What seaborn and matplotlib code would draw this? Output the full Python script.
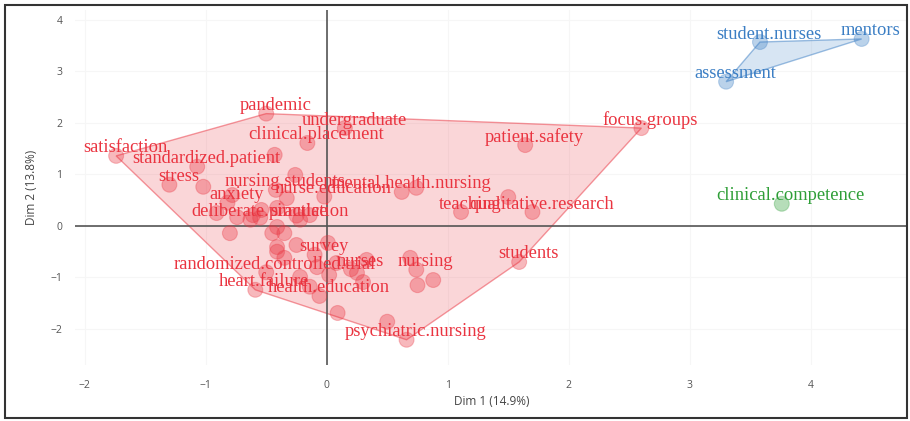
import numpy as np
import pandas as pd
import matplotlib
matplotlib.use('Agg')
import matplotlib.pyplot as plt
import seaborn as sns
from matplotlib.patches import Rectangle

# Koordinaten der Keywords (Dim 1 / Dim 2), beschriftete Punkte
red_labels = [
    'satisfaction', 'standardized.patient', 'stress', 'pandemic', 'undergraduate',
    'clinical.placement', 'patient.safety', 'focus.groups', 'nursing.students',
    'nurse.education', 'mental.health.nursing', 'teaching', 'qualitative.research',
    'anxiety', 'deliberate.practice', 'simulation', 'survey',
    'randomized.controlled.trial', 'nurses', 'nursing', 'heart.failure',
    'health.education', 'psychiatric.nursing', 'students',
]
red_x = [-1.74, -1.07, -1.30, -0.50, 0.15, -0.16, 1.64, 2.60, -0.42, -0.02, 0.62, 1.11,
         1.70, -0.82, -0.63, -0.22, -0.10, -0.50, 0.20, 0.74, -0.59, -0.06, 0.66, 1.59]
red_y = [1.36, 1.15, 0.80, 2.18, 1.90, 1.61, 1.57, 1.90, 0.70, 0.57, 0.66, 0.27,
         0.27, 0.45, 0.12, 0.12, -0.56, -0.90, -0.84, -0.85, -1.24, -1.36, -2.21, -0.70]

# unbeschriftete Punkte im roten Cluster
red_extra_x = [-0.43, -1.02, -0.26, -0.33, -0.80, -0.91, -0.74, -0.61, -0.55, -0.25,
               -0.41, -0.45, -0.35, -0.78, -0.54, -0.41, -0.14, -0.41, -0.25, -0.41,
               -0.35, 0.01, -0.08, -0.22, 0.02, 0.08, 0.33, 0.25, 0.30, -0.14,
               0.09, 0.50, 0.69, 0.75, 0.88, 0.74, 1.50]
red_extra_y = [1.38, 0.76, 0.99, 0.54, -0.14, 0.25, 0.17, 0.21, 0.16, 0.20,
               -0.02, -0.14, -0.14, 0.60, 0.31, 0.35, 0.21, -0.41, -0.37, -0.50,
               -0.62, -0.33, -0.80, -0.99, -0.95, -0.72, -0.66, -0.91, -1.09, -1.18,
               -1.69, -1.86, -0.62, -1.15, -1.05, 0.74, 0.56]

blue_labels = ['student.nurses', 'mentors', 'assessment']
blue_x = [3.58, 4.42, 3.30]
blue_y = [3.57, 3.63, 2.80]

green_labels = ['clinical.competence']
green_x = [3.76]
green_y = [0.43]

colors = {'1': '#EA3440', '2': '#3B7EC4', '3': '#2E9E37'}

df = pd.concat([
    pd.DataFrame({'x': red_x, 'y': red_y, 'label': red_labels, 'cluster': '1'}),
    pd.DataFrame({'x': red_extra_x, 'y': red_extra_y, 'label': '', 'cluster': '1'}),
    pd.DataFrame({'x': blue_x, 'y': blue_y, 'label': blue_labels, 'cluster': '2'}),
    pd.DataFrame({'x': green_x, 'y': green_y, 'label': green_labels, 'cluster': '3'}),
], ignore_index=True)


# konvexe Huelle (monotone chain)
def convex_hull(pts):
    pts = sorted(set(pts))
    if len(pts) < 3:
        return pts

    def cross(o, a, b):
        return (a[0] - o[0]) * (b[1] - o[1]) - (a[1] - o[1]) * (b[0] - o[0])

    lower, upper = [], []
    for p in pts:
        while len(lower) >= 2 and cross(lower[-2], lower[-1], p) <= 0:
            lower.pop()
        lower.append(p)
    for p in reversed(pts):
        while len(upper) >= 2 and cross(upper[-2], upper[-1], p) <= 0:
            upper.pop()
        upper.append(p)
    return lower[:-1] + upper[:-1]


sns.set_style('white')
plt.rcParams['font.family'] = ['Open Sans', 'DejaVu Sans']

fig = plt.figure(figsize=(9.1, 4.21), dpi=100)
ax = fig.add_axes([0.0824, 0.133, 0.915, 0.843])

ax.grid(True, color='#f6f6f6', lw=0.8)
ax.set_axisbelow(True)

# Huellen der Cluster
for cl, sub in df.groupby('cluster'):
    hull = convex_hull(list(zip(sub['x'], sub['y'])))
    if len(hull) >= 3:
        hx, hy = zip(*hull)
        ax.fill(hx, hy, facecolor=colors[cl], alpha=0.2, edgecolor='none', zorder=1)
        ax.fill(hx, hy, facecolor='none', edgecolor=colors[cl], alpha=0.5, lw=1.0, zorder=1)

ax.axhline(0, color='#555555', lw=1.2, zorder=2)
ax.axvline(0, color='#555555', lw=1.2, zorder=2)

sns.scatterplot(data=df, x='x', y='y', hue='cluster', palette=colors, s=115,
                alpha=0.35, edgecolor=None, linewidth=0, legend=False, ax=ax, zorder=3)
# dunklere Raender
for cl, sub in df.groupby('cluster'):
    ax.scatter(sub['x'], sub['y'], s=115, facecolor='none', edgecolor=colors[cl],
               alpha=0.3, lw=0.8, zorder=3)

for _, row in df[df['label'] != ''].iterrows():
    ax.annotate(row['label'], (row['x'], row['y']), xytext=(9, 8), textcoords='offset pixels',
                ha='center', va='center', fontsize=13.3, family='Liberation Serif',
                color=colors[row['cluster']], zorder=4)

ax.set_xlim(-2.08, 4.80)
ax.set_ylim(-2.70, 4.19)
ax.set_xticks(range(-2, 5))
ax.set_yticks(range(-2, 5))
ax.tick_params(length=0, labelsize=7.5, labelcolor='#555555')
ax.tick_params(axis='x', pad=11)
ax.tick_params(axis='y', pad=9)
for s in ax.spines.values():
    s.set_visible(False)

ax.set_xlabel('Dim 1 (14.9%)', fontsize=8.5, color='#444444', labelpad=3)
ax.set_ylabel('Dim 2 (13.8%)', fontsize=8.5, color='#444444', labelpad=9)

fig.patches.append(Rectangle((0.005, 0.007), 0.992, 0.981, transform=fig.transFigure,
                             fill=False, edgecolor='#333333', lw=1.5))

fig.savefig('out.png', dpi=100)
